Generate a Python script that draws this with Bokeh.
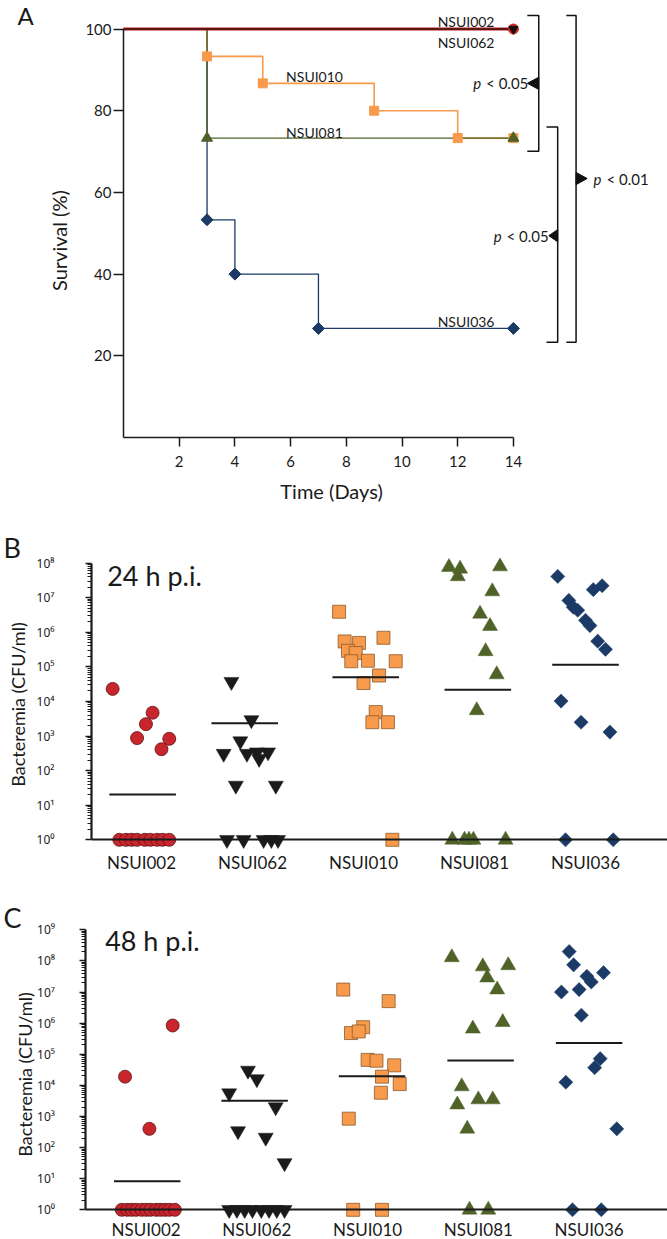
import numpy as np
from bokeh.plotting import figure
from bokeh.layouts import column
from bokeh.models import Range1d, FixedTicker, CustomJSTickFormatter
from bokeh.embed import file_html
from bokeh.resources import INLINE
from bokeh.core.properties import value

# ---------------- data ----------------
strains = ["NSUI002", "NSUI062", "NSUI010", "NSUI081", "NSUI036"]

# Panel A : survival (%) over time (days)
days_002 = [0, 14]
surv_002 = [100, 100]
days_062 = [0, 14]
surv_062 = [100, 100]
days_010 = [0, 3, 5, 9, 12, 14]
surv_010 = [100, 93.3, 86.7, 80.0, 73.3, 73.3]
days_081 = [0, 3, 14]
surv_081 = [100, 73.3, 73.3]
days_036 = [0, 3, 4, 7, 14]
surv_036 = [100, 53.3, 40.0, 26.7, 26.7]
day_ticks = [2, 4, 6, 8, 10, 12, 14]
surv_ticks = [20, 40, 60, 80, 100]
p_texts = ["< 0.05", "< 0.05", "< 0.01"]

# Panel B : bacteremia 24 h p.i. (CFU/ml), with horizontal jitter within group
b24_002 = [2.3e4, 4.7e3, 2.2e3, 870, 830, 415, 1, 1, 1, 1, 1, 1, 1, 1, 1]
b24_002_j = [-0.26, 0.10, 0.04, -0.04, 0.25, 0.18, -0.20, -0.14, -0.09, -0.04, 0.03, 0.08, 0.14, 0.19, 0.25]
b24_062 = [3.7e4, 2.9e3, 710, 308, 308, 340, 340, 220, 37, 37, 1, 1, 1, 1, 1]
b24_062_j = [-0.19, -0.01, -0.11, -0.26, -0.05, 0.04, 0.14, 0.06, -0.15, 0.21, -0.23, -0.08, 0.10, 0.17, 0.23]
b24_010 = [3.9e6, 5.4e5, 6.9e5, 4.9e5, 2.9e5, 2.5e5, 1.45e5, 1.5e5, 1.45e5, 5.6e4, 3.4e4, 4.9e3, 2.5e3, 2.5e3, 1]
b24_010_j = [-0.22, -0.17, 0.18, -0.04, -0.14, -0.07, -0.11, 0.04, 0.29, 0.14, 0.0, 0.11, 0.08, 0.22, 0.26]
b24_081 = [7.6e7, 6.8e7, 4.1e7, 7.9e7, 1.5e7, 3.4e6, 1.5e6, 2.8e5, 6e4, 5.5e3, 1, 1, 1, 1, 1]
b24_081_j = [-0.23, -0.13, -0.15, 0.23, 0.16, 0.05, 0.14, 0.10, 0.20, 0.02, -0.20, -0.09, -0.05, -0.01, 0.28]
b24_036 = [4.1e7, 2.2e7, 1.7e7, 8.3e6, 5.3e6, 4.3e6, 2.2e6, 1.55e6, 5.5e5, 3.2e5, 1.02e4, 2.5e3, 1.3e3, 1, 1]
b24_036_j = [-0.25, 0.15, 0.07, -0.15, -0.11, -0.07, 0.0, 0.04, 0.11, 0.18, -0.22, -0.04, 0.22, -0.18, 0.25]
mean24 = [20.4, 2.34e3, 5.0e4, 2.16e4, 1.14e5]
mean24_shift = [0.01, -0.07, 0.02, 0.03, 0.0]

# Panel C : bacteremia 48 h p.i. (CFU/ml)
b48_002 = [8.4e5, 1.9e4, 400, 1, 1, 1, 1, 1, 1, 1, 1, 1, 1, 1, 1]
b48_002_j = [0.24, -0.19, 0.03, -0.22, -0.17, -0.13, -0.09, -0.04, 0.0, 0.04, 0.09, 0.13, 0.17, 0.21, 0.26]
b48_062 = [3e4, 1.6e4, 5.6e3, 2e3, 340, 210, 32, 1, 1, 1, 1, 1, 1, 1, 1]
b48_062_j = [-0.08, 0.0, -0.25, 0.17, -0.17, 0.08, 0.25, -0.25, -0.18, -0.11, -0.04, 0.04, 0.11, 0.18, 0.25]
b48_010 = [1.2e7, 5.1e6, 7.4e5, 4.8e5, 5.4e5, 6.6e4, 6.2e4, 4.4e4, 1.9e4, 1.1e4, 5.8e3, 850, 1, 1]
b48_010_j = [-0.22, 0.19, -0.04, -0.15, -0.08, 0.0, 0.08, 0.24, 0.13, 0.29, 0.12, -0.17, -0.13, 0.13]
b48_081 = [1.3e8, 6.6e7, 7.2e7, 2.9e7, 1.2e7, 1.07e6, 6.6e5, 9.2e3, 2.4e3, 3.5e3, 3.5e3, 400, 1, 1]
b48_081_j = [-0.24, 0.04, 0.27, 0.08, 0.17, 0.22, -0.05, -0.15, -0.19, 0.0, 0.13, -0.10, -0.08, 0.09]
b48_036 = [2e8, 7.5e7, 4.2e7, 3.2e7, 2.1e7, 1.2e7, 1e7, 1.8e6, 7.2e4, 3.7e4, 1.26e4, 400, 1, 1]
b48_036_j = [-0.18, -0.14, 0.13, -0.02, 0.02, -0.09, -0.25, -0.07, 0.10, 0.05, -0.21, 0.25, -0.15, 0.11]
mean48 = [8.3, 3.2e3, 1.95e4, 6.3e4, 2.3e5]
mean48_shift = [0.01, -0.02, 0.04, 0.02, 0.0]

# ---------------- styles ----------------
FONT = "Lato"
INK = "#1a1a1a"
RED, BLACK, ORANGE, OLIVE, NAVY = "#c8262c", "#1a1a1a", "#f79a4c", "#4f6228", "#1b3a66"
big_styles = [
    dict(marker="circle", size=13, fill_color=RED, line_color="#5c1414", line_width=0.8),
    dict(marker="inverted_triangle", size=15, fill_color=BLACK, line_color=BLACK, line_width=0.5),
    dict(marker="square", size=13, fill_color=ORANGE, line_color="#8c5a2c", line_width=0.8),
    dict(marker="triangle", size=15, fill_color=OLIVE, line_color=OLIVE, line_width=0.5),
    dict(marker="square", size=10, angle=np.pi / 4, fill_color=NAVY, line_color=NAVY, line_width=0.5),
]
W = 667


def base_fig(height, xr, yr, log=False):
    kw = dict(y_axis_type="log") if log else {}
    p = figure(width=W, height=height, x_range=Range1d(*xr), y_range=Range1d(*yr),
               output_backend="svg", toolbar_location=None,
               min_border_left=0, min_border_right=0, min_border_top=0, min_border_bottom=0, **kw)
    p.outline_line_color = None
    p.xgrid.visible = False
    p.ygrid.visible = False
    p.background_fill_color = "white"
    p.border_fill_color = "white"
    return p


def txt(p, x, y, s, size, align="left", baseline="middle", angle=0.0, style="normal", font=FONT):
    p.text(x=[x], y=[y], text=[s], text_font=value(font), text_font_size=size, text_align=align,
           text_baseline=baseline, angle=angle, text_font_style=style, text_color=INK)


# ================= Panel A =================
# frame = whole figure; day 0 at x=123 px, 27.85 px/day; 0 % at y=437 px, 4.085 px/%
pa = base_fig(503, (-4.4165, 19.533), (-16.157, 106.98))
xa, ya = pa.xaxis[0], pa.yaxis[0]
xa.fixed_location = 0
ya.fixed_location = 0
xa.bounds = (0, 14)
ya.bounds = (0, 100)
xa.ticker = FixedTicker(ticks=day_ticks)
ya.ticker = FixedTicker(ticks=surv_ticks)
for ax in (xa, ya):
    ax.axis_line_width = 1.5
    ax.axis_line_color = INK
    ax.major_tick_line_color = INK
    ax.major_tick_line_width = 1.5
    ax.major_tick_in = 0
    ax.minor_tick_line_color = None
    ax.major_label_text_font = FONT
    ax.major_label_text_font_size = "15px"
    ax.major_label_text_color = INK
xa.major_tick_out = 9
xa.major_label_standoff = 9
ya.major_tick_out = 10
ya.major_label_standoff = 2

pa.step(days_036, surv_036, mode="after", line_color=NAVY, line_width=1.3)
pa.step(days_010, surv_010, mode="after", line_color=ORANGE, line_width=1.6)
pa.step(days_081, surv_081, mode="after", line_color=OLIVE, line_width=1.4)
pa.step(days_002, surv_002, mode="after", line_color="#b01818", line_width=3)
pa.step(days_062, surv_062, mode="after", line_color="#111111", line_width=1.1)

pa.scatter(days_036[1:], surv_036[1:], marker="square", angle=np.pi / 4, size=8.5, fill_color=NAVY, line_color=NAVY)
pa.scatter(days_010[1:], surv_010[1:], marker="square", size=9, fill_color=ORANGE, line_color=ORANGE)
pa.scatter(days_081[1:], surv_081[1:], marker="triangle", size=11, fill_color=OLIVE, line_color=OLIVE)
pa.scatter(days_002[1:], surv_002[1:], marker="circle", size=10, fill_color="#d02020", line_color="#d02020")
pa.scatter(days_062[1:], surv_062[1:], marker="inverted_triangle", size=9, fill_color="#111111", line_color="#111111")

# curve labels
pa.text(x=[12.30, 12.30, 6.86, 6.86, 12.30], y=[101.9, 96.7, 88.4, 74.6, 28.3],
        text=["NSUI002", "NSUI062", "NSUI010", "NSUI081", "NSUI036"],
        text_font=value(FONT), text_font_size="14px", text_align="center", text_baseline="middle",
        text_color=INK)

# significance brackets: (vertical x, tick x, top, bottom)
brackets = [(14.91, 14.50, 103.3, 70.1), (15.59, 15.19, 76.0, 23.3), (16.25, 15.90, 103.3, 23.3)]
for xv, xt, top, bot in brackets:
    pa.line([xt, xv, xv, xt], [top, top, bot, bot], line_color="#111111", line_width=1.5)
# arrows: (base x, tip x, y)
arrows = [(14.91, 14.50, 86.7), (15.59, 15.27, 49.4), (16.25, 16.65, 63.4)]
pa.patches([[b, t, b] for b, t, y in arrows], [[y - 1.5, y, y + 1.5] for b, t, y in arrows],
           fill_color="#111111", line_color="#111111")
pa.text(x=[12.56, 13.29, 16.88], y=[86.7, 49.4, 63.4], text=["p", "p", "p"],
        text_font=value(FONT), text_font_style="italic", text_font_size="15px",
        text_align="left", text_baseline="middle", text_color=INK)
pa.text(x=[13.02, 13.75, 17.34], y=[86.7, 49.4, 63.4], text=p_texts,
        text_font=value(FONT), text_font_size="15px",
        text_align="left", text_baseline="middle", text_color=INK)

txt(pa, -3.81, 103.3, "A", "24px")
txt(pa, -2.30, 48.2, "Survival (%)", "20px", align="center", angle=np.pi / 2)
txt(pa, 7.47, -13.2, "Time (Days)", "20px", align="center")

# ================= Panels B and C =================
sup_code = """
const sup = ['\u2070','\u00b9','\u00b2','\u00b3','\u2074','\u2075','\u2076','\u2077','\u2078','\u2079'];
const e = Math.round(Math.log10(tick));
return '10' + String(e).split('').map(d => sup[+d]).join('');
"""


def cat_panel(height, xr, log_lo, log_hi, axis_x, top_exp, series, means, mean_shift,
              tag, tag_x, tag_y, letter, letter_x, letter_y, ylab_x, ylab_y, tick_standoff, cat_standoff):
    p = base_fig(height, xr, (10 ** log_lo, 10 ** log_hi), log=True)
    ya = p.yaxis[0]
    ya.fixed_location = axis_x
    ya.bounds = (1, 10 ** top_exp)
    ya.ticker = FixedTicker(ticks=[10 ** e for e in range(top_exp + 1)],
                            minor_ticks=[k * 10 ** e for e in range(top_exp) for k in range(2, 10)])
    ya.formatter = CustomJSTickFormatter(code=sup_code)
    ya.axis_line_width = 2.2
    ya.axis_line_color = INK
    ya.major_tick_out = 6
    ya.major_tick_in = 0
    ya.minor_tick_out = 4
    ya.minor_tick_in = 0
    ya.major_tick_line_width = 1.5
    ya.minor_tick_line_width = 1.2
    ya.major_tick_line_color = INK
    ya.minor_tick_line_color = INK
    ya.major_label_text_font = "Noto Sans"
    ya.major_label_text_font_size = "12px"
    ya.major_label_text_color = INK
    ya.major_label_standoff = tick_standoff

    xa = p.xaxis[0]
    xa.fixed_location = 1
    xa.bounds = (axis_x, xr[1])
    xa.ticker = FixedTicker(ticks=[1, 2, 3, 4, 5])
    xa.formatter = CustomJSTickFormatter(args=dict(names=strains),
                                         code="return names[Math.round(tick) - 1] || '';")
    xa.axis_line_color = INK
    xa.axis_line_width = 2
    xa.major_tick_line_color = None
    xa.minor_tick_line_color = None
    xa.major_label_standoff = cat_standoff
    xa.major_label_text_font = FONT
    xa.major_label_text_font_size = "17px"
    xa.major_label_text_color = INK

    for i, (vals, jit) in enumerate(series):
        xs = [i + 1 + j for j in jit]
        p.scatter(xs, vals, **big_styles[i])

    centers = [i + 1 + s for i, s in enumerate(mean_shift)]
    p.segment(x0=[c - 0.3 for c in centers], y0=means, x1=[c + 0.3 for c in centers], y1=means,
              line_color=INK, line_width=2)

    txt(p, tag_x, tag_y, tag, "27px")
    txt(p, letter_x, letter_y, letter, "27px")
    txt(p, ylab_x, ylab_y, "Bacteremia (CFU/ml)", "18px", align="center", angle=np.pi / 2)
    return p


series24 = [(b24_002, b24_002_j), (b24_062, b24_062_j), (b24_010, b24_010_j),
            (b24_081, b24_081_j), (b24_036, b24_036_j)]
series48 = [(b48_002, b48_002_j), (b48_062, b48_062_j), (b48_010, b48_010_j),
            (b48_081, b48_081_j), (b48_036, b48_036_j)]

# B: group 1 at x=141 px, 111 px/group; 10^0 at y=839.3 px, 34.6 px/decade (figure spans y 503..880)
pb = cat_panel(377, (-0.2703, 5.7387), -1.1763, 9.7197, 0.5495, 8, series24, mean24, mean24_shift,
               "24 h p.i.", 0.691, 10 ** 7.64, "B", -0.243, 10 ** 8.448, -0.117, 10 ** 3.91, 31, 6)
# C: group 1 at x=145.6 px, 110.75 px/group; 10^0 at y=1209.3 px, 31.11 px/decade (y 880..1239)
pc = cat_panel(359, (-0.3147, 5.7079), -0.9547, 10.585, 0.4483, 9, series48, mean48, mean48_shift,
               "48 h p.i.", 0.63, 10 ** 8.656, "C", -0.288, 10 ** 9.396, -0.0935, 10 ** 4.349, 24, 3)

layout = column(pa, pb, pc)
open("out.html", "w").write(file_html(layout, INLINE))
